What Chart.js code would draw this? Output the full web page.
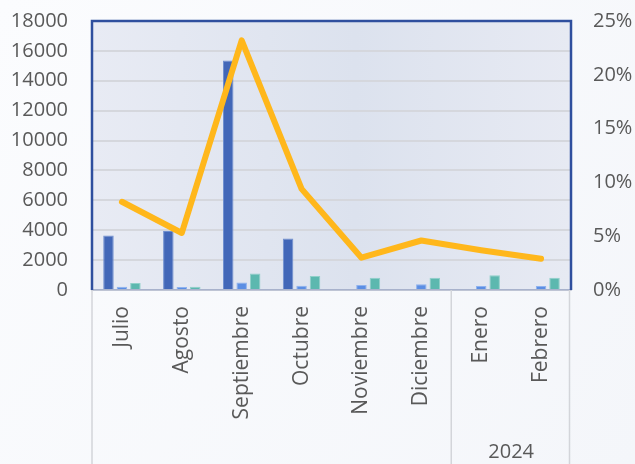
<!DOCTYPE html>
<html>
<head>
<meta charset="utf-8">
<script src="https://cdn.jsdelivr.net/npm/chart.js@4.4.0/dist/chart.umd.min.js"></script>
<style>
    html, body { margin: 0; padding: 0; background: #f8f9fc; }
    #wrap { width: 635px; height: 464px; }
</style>
</head>
<body>
<div id="wrap"><canvas id="chart" width="635" height="464"></canvas></div>
<script>
// Datos del gráfico
const meses = ['Julio', 'Agosto', 'Septiembre', 'Octubre', 'Noviembre', 'Diciembre', 'Enero', 'Febrero'];
const grupoAnio = { label: '2024', desde: 6, hasta: 7 };
const serieOscura = [3650, 3950, 15350, 3450, null, null, null, null];
const serieClara = [220, 200, 510, 290, 330, 380, 270, 270];
const serieTeal = [470, 220, 1110, 930, 820, 820, 980, 820];
const porcentaje = [0.082, 0.053, 0.232, 0.094, 0.030, 0.046, 0.037, 0.029];
const ejeIzq = { min: 0, max: 18000, paso: 2000 };
const ejeDer = { min: 0, max: 0.25, paso: 0.05 };

const fuente = '"Open Sans", "Noto Sans", sans-serif';
const grisTexto = '#595959';

// Fondo, borde del área y etiqueta de año
const fondoPlugin = {
    id: 'fondo',
    beforeDraw(chart) {
        const { ctx, chartArea: a, width, height } = chart;
        ctx.save();
        const bg = ctx.createLinearGradient(0, 0, width, height);
        bg.addColorStop(0, '#fbfcfe');
        bg.addColorStop(1, '#f4f6fa');
        ctx.fillStyle = bg;
        ctx.fillRect(0, 0, width, height);

        const g = ctx.createLinearGradient(a.left, 0, a.right, 0);
        g.addColorStop(0, '#e8ebf4');
        g.addColorStop(0.55, '#dce2ee');
        g.addColorStop(1, '#e7eaf3');
        ctx.fillStyle = g;
        ctx.fillRect(a.left, a.top, a.right - a.left, a.bottom - a.top);
        ctx.restore();
    },
    afterDraw(chart) {
        const { ctx, chartArea: a, height } = chart;
        const x = chart.scales.x;
        ctx.save();

        // Separadores de la categoría de año
        const limite = (x.getPixelForValue(grupoAnio.desde - 1) + x.getPixelForValue(grupoAnio.desde)) / 2;
        ctx.strokeStyle = '#d3d5da';
        ctx.lineWidth = 1.5;
        [a.left, limite, a.right - 1.5].forEach(px => {
            ctx.beginPath();
            ctx.moveTo(px, a.bottom);
            ctx.lineTo(px, height);
            ctx.stroke();
        });

        // Borde azul del área de trazado
        ctx.strokeStyle = '#2f4f9e';
        ctx.lineWidth = 2.5;
        ctx.beginPath();
        ctx.moveTo(a.left, a.bottom);
        ctx.lineTo(a.left, a.top);
        ctx.lineTo(a.right, a.top);
        ctx.lineTo(a.right, a.bottom);
        ctx.stroke();

        // Etiqueta de año
        const centro = (x.getPixelForValue(grupoAnio.desde) + x.getPixelForValue(grupoAnio.hasta)) / 2;
        ctx.fillStyle = grisTexto;
        ctx.font = '20px ' + fuente;
        ctx.textAlign = 'center';
        ctx.textBaseline = 'middle';
        ctx.fillText(grupoAnio.label, centro, 452);
        ctx.restore();
    }
};

new Chart(document.getElementById('chart').getContext('2d'), {
    data: {
        labels: meses,
        datasets: [
            {
                type: 'line',
                data: porcentaje,
                yAxisID: 'y2',
                borderColor: '#ffb71b',
                borderWidth: 6,
                borderCapStyle: 'round',
                borderJoinStyle: 'round',
                pointRadius: 0,
                tension: 0,
                order: 0
            },
            {
                type: 'bar',
                data: serieOscura,
                backgroundColor: '#4267b8',
                borderColor: '#6f8fd0',
                borderWidth: 1,
                order: 1
            },
            {
                type: 'bar',
                data: serieClara,
                backgroundColor: '#5b8ee4',
                borderColor: '#8fb2ee',
                borderWidth: 1,
                order: 1
            },
            {
                type: 'bar',
                data: serieTeal,
                backgroundColor: '#5cb8af',
                borderColor: '#8fd0c9',
                borderWidth: 1,
                order: 1
            }
        ]
    },
    options: {
        responsive: false,
        animation: false,
        layout: { padding: { top: 21, left: 0, right: 0, bottom: 0 } },
        datasets: {
            bar: { categoryPercentage: 0.675, barPercentage: 0.78 }
        },
        plugins: {
            legend: { display: false },
            tooltip: { enabled: false }
        },
        scales: {
            x: {
                grid: { display: false, drawTicks: false },
                border: { display: true, color: '#a8b2cc', width: 1.5 },
                ticks: {
                    minRotation: 90,
                    maxRotation: 90,
                    padding: 16,
                    color: grisTexto,
                    font: { family: fuente, size: 21 }
                },
                afterFit(scale) { scale.height = 174; }
            },
            y: {
                position: 'left',
                min: ejeIzq.min,
                max: ejeIzq.max,
                // la separación de las etiquetas va en tickLength para no inflar el margen superior
                grid: { color: '#d5d7dd', lineWidth: 2, drawTicks: true, tickLength: 24, tickColor: 'rgba(0,0,0,0)' },
                border: { display: false },
                ticks: {
                    stepSize: ejeIzq.paso,
                    padding: 0,
                    color: grisTexto,
                    font: { family: fuente, size: 20 },
                    callback: v => String(v)
                },
                afterFit(scale) { scale.width = 92; }
            },
            y2: {
                position: 'right',
                min: ejeDer.min,
                max: ejeDer.max,
                grid: { drawOnChartArea: false, drawTicks: true, tickLength: 22, tickColor: 'rgba(0,0,0,0)' },
                border: { display: false },
                ticks: {
                    stepSize: ejeDer.paso,
                    padding: 0,
                    color: grisTexto,
                    font: { family: fuente, size: 20 },
                    callback: v => Math.round(v * 100) + '%'
                },
                afterFit(scale) { scale.width = 64; }
            }
        }
    },
    plugins: [fondoPlugin]
});
</script>
</body>
</html>
